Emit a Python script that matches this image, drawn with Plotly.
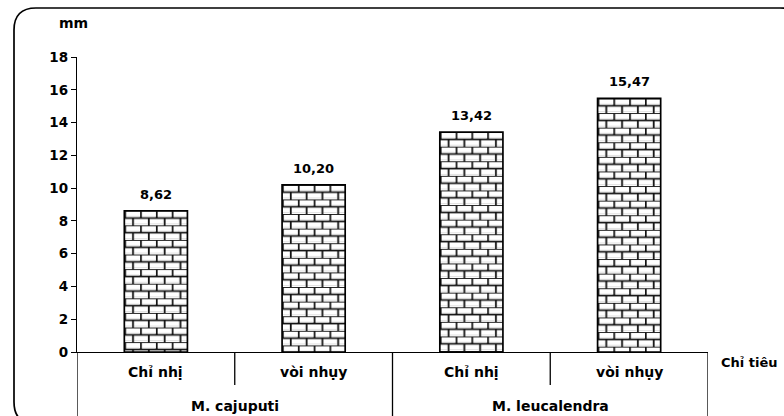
import base64
import plotly.graph_objects as go

# Flower part lengths (mm) for two Melaleuca species
species = ["M. cajuputi", "M. cajuputi", "M. leucalendra", "M. leucalendra"]
parts = ["Chỉ nhị", "vòi nhụy", "Chỉ nhị", "vòi nhụy"]
lengths = [8.62, 10.20, 13.42, 15.47]
value_labels = ["8,62", "10,20", "13,42", "15,47"]
group_names = ["M. cajuputi", "M. leucalendra"]
y_ticks = [0, 2, 4, 6, 8, 10, 12, 14, 16, 18]

W, H = 784, 416
ML, MR, MT, MB = 77, 76, 57, 64
PW, PH = W - ML - MR, H - MT - MB
Y_MAX = 18
BAR_W = 0.4
FONT = "DejaVu Sans"
BLACK = "#000000"

x_pos = list(range(len(lengths)))


def px_x(px):
    return (px - ML) / PW


def px_y(py):
    return (H - MB - py) / PH


def brick_svg(value):
    """Brick-wall fill sized to a bar so the bricks keep their proportions."""
    w = BAR_W * PW / 4.0
    h = value * PH / Y_MAX
    bw, bh = 15.8, 7.3
    svg = (
        f'<svg xmlns="http://www.w3.org/2000/svg" width="{w:.2f}" height="{h:.2f}" '
        f'viewBox="0 0 {w:.2f} {h:.2f}" preserveAspectRatio="none">'
        f'<defs><pattern id="b" patternUnits="userSpaceOnUse" width="{bw}" height="{2*bh}">'
        f'<rect width="{bw}" height="{2*bh}" fill="#ffffff"/>'
        f'<g stroke="#111111" stroke-width="1.8" fill="none">'
        f'<line x1="0" y1="0" x2="{bw}" y2="0"/>'
        f'<line x1="0" y1="{bh}" x2="{bw}" y2="{bh}"/>'
        f'<line x1="0.8" y1="0" x2="0.8" y2="{bh}"/>'
        f'<line x1="{bw/2+0.8}" y1="{bh}" x2="{bw/2+0.8}" y2="{2*bh}"/>'
        f'</g>'
        f'<g stroke="#d8d8d8" stroke-width="0.8" fill="none">'
        f'<line x1="2" y1="{bh-1.4}" x2="{bw-1}" y2="{bh-1.4}"/>'
        f'<line x1="0" y1="{2*bh-1.4}" x2="{bw/2-0.6}" y2="{2*bh-1.4}"/>'
        f'<line x1="{bw/2+2}" y1="{2*bh-1.4}" x2="{bw}" y2="{2*bh-1.4}"/>'
        f'</g></pattern></defs>'
        f'<rect width="{w:.2f}" height="{h:.2f}" fill="url(#b)"/></svg>'
    )
    return "data:image/svg+xml;base64," + base64.b64encode(svg.encode()).decode()


fig = go.Figure()
fig.add_trace(go.Bar(
    x=x_pos, y=lengths, width=BAR_W,
    marker=dict(color="rgba(0,0,0,0)", line=dict(color=BLACK, width=1.7)),
    hoverinfo="skip", showlegend=False,
))

# Brick texture behind each bar outline
images = []
for xi, v in zip(x_pos, lengths):
    images.append(dict(
        source=brick_svg(v), xref="x", yref="y",
        x=xi - BAR_W / 2, y=v, sizex=BAR_W, sizey=v,
        xanchor="left", yanchor="top", sizing="stretch", layer="below",
    ))

annotations = []
bold = dict(family=FONT, color=BLACK, weight="bold")
for xi, v, lab in zip(x_pos, lengths, value_labels):
    annotations.append(dict(
        x=xi, y=v, xref="x", yref="y", text=lab, showarrow=False,
        xanchor="center", yanchor="bottom", yshift=7, font=dict(size=13, **bold),
    ))
for xi, p in zip(x_pos, parts):
    annotations.append(dict(
        x=xi, y=px_y(372), xref="x", yref="paper", text=p, showarrow=False,
        xanchor="center", yanchor="middle", font=dict(size=14, **bold),
    ))
for gi, g in enumerate(group_names):
    annotations.append(dict(
        x=2 * gi + 0.5, y=px_y(406), xref="x", yref="paper", text=g,
        showarrow=False, xanchor="center", yanchor="middle",
        font=dict(size=14, **bold),
    ))
annotations.append(dict(
    x=px_x(719), y=px_y(362), xref="paper", yref="paper", text="Chỉ tiêu",
    showarrow=False, xanchor="left", yanchor="middle", font=dict(size=13, **bold),
))
annotations.append(dict(
    x=px_x(73), y=px_y(23), xref="paper", yref="paper", text="mm",
    showarrow=False, xanchor="center", yanchor="middle", font=dict(size=14, **bold),
))

shapes = []
# Category table lines beneath the axis
for xb in [-0.5, 1.5, 3.5]:
    shapes.append(dict(type="line", xref="x", yref="paper", x0=xb, x1=xb,
                       y0=0, y1=px_y(430), line=dict(color=BLACK, width=1.3)))
for xb in [0.5, 2.5]:
    shapes.append(dict(type="line", xref="x", yref="paper", x0=xb, x1=xb,
                       y0=0, y1=px_y(385), line=dict(color=BLACK, width=1.3)))

# Rounded outer frame
L, T, R, B, r = 14, 8, 802, 424, 22
pts = [
    ("M", L, T + r), ("Q", L, T, L + r, T), ("L", R - r, T), ("Q", R, T, R, T + r),
    ("L", R, B - r), ("Q", R, B, R - r, B), ("L", L + r, B), ("Q", L, B, L, B - r),
]
path = ""
for item in pts:
    cmd, coords = item[0], item[1:]
    pairs = [f"{px_x(coords[i]):.5f},{px_y(coords[i+1]):.5f}" for i in range(0, len(coords), 2)]
    path += cmd + " " + " ".join(pairs) + " "
path += "Z"
shapes.append(dict(type="path", xref="paper", yref="paper", path=path,
                   line=dict(color=BLACK, width=1.7), fillcolor="rgba(0,0,0,0)"))

fig.update_layout(
    width=W, height=H,
    margin=dict(l=ML, r=MR, t=MT, b=MB, pad=0),
    paper_bgcolor="#ffffff", plot_bgcolor="#ffffff",
    images=images, annotations=annotations, shapes=shapes,
    bargap=0.6, showlegend=False,
    xaxis=dict(range=[-0.5, 3.5], showticklabels=False, ticks="", showgrid=False,
               zeroline=False, showline=True, linecolor=BLACK, linewidth=1.3,
               fixedrange=True),
    yaxis=dict(range=[0, Y_MAX], tickvals=y_ticks, ticks="outside", ticklen=5,
               tickwidth=1.2, tickcolor=BLACK, showgrid=False, zeroline=False,
               showline=True, linecolor=BLACK, linewidth=1.3,
               tickfont=dict(size=13.5, **bold), fixedrange=True),
)

fig.write_html("out.html", config=dict(displayModeBar=False))
